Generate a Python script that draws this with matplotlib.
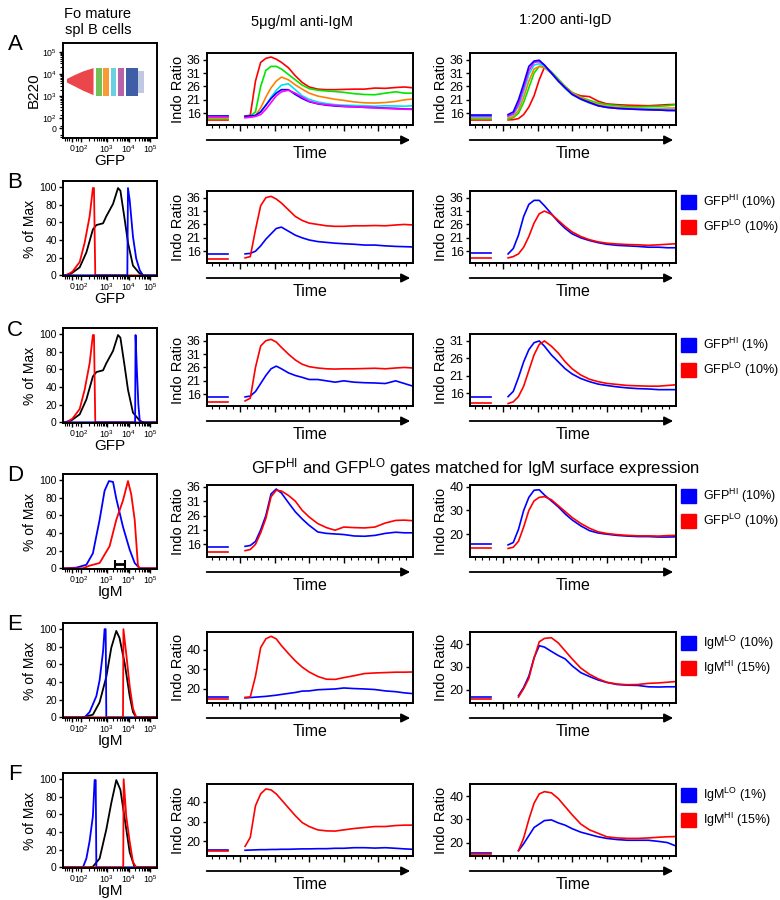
import numpy as np
import matplotlib
matplotlib.use("Agg")
import matplotlib.pyplot as plt
from matplotlib.patches import Rectangle

plt.rcParams['font.family'] = ['Liberation Sans', 'DejaVu Sans']
plt.rcParams['mathtext.default'] = 'regular'

# ---------------- data ----------------
# time grid (s) for post-stimulus traces, baselines drawn from 5 to 65 s
T_GRID = [115, 130, 145, 160, 175, 190, 205, 220, 240, 260, 280, 300, 325,
          350, 375, 400, 430, 460, 490, 520, 550, 575, 600]
T_BASE = [5, 65]
nan = np.nan

# row A, 5ug/ml anti-IgM (six GFP gates)
a_mid_red = [15.0, 15.2, 28, 35, 36.5, 37, 36.2, 35, 33, 30, 27.5, 25.8, 25, 24.8, 24.8, 24.9, 25, 25, 25.4, 25.3, 25.6, 25.8, 25.5]
a_mid_green = [14.8, 15, 16.5, 26, 32, 33.5, 33.5, 32.5, 30.5, 28.5, 26.5, 25.2, 24.6, 24.3, 24.1, 23.8, 23.3, 23, 22.9, 23.5, 24, 23.5, 23.5]
a_mid_orange = [14.5, 14.8, 15.2, 18, 22, 25.5, 28, 29.5, 28.5, 26.6, 25, 23.5, 22.4, 21.8, 21.2, 20.8, 20.2, 19.9, 19.8, 20, 20.4, 21, 21.3]
a_mid_cyan = [14.5, 14.7, 15, 16.5, 19, 22, 24.5, 26.5, 27, 24.8, 22.5, 21.2, 20.2, 19.6, 19.2, 19, 18.9, 18.8, 18.6, 18.8, 18.7, 18.6, 18.8]
a_mid_blue = [14.8, 15, 15.2, 16.5, 19, 21.5, 23.5, 24.8, 24.8, 23, 21.5, 20.3, 19.5, 19, 18.7, 18.5, 18.4, 18.2, 18.1, 17.9, 17.8, 17.6, 17.5]
a_mid_magenta = [14.3, 14.5, 14.8, 15.5, 17.5, 20, 22.5, 24, 24.6, 23.5, 22, 20.5, 19.6, 19.2, 18.9, 18.6, 18.4, 18.2, 18, 17.8, 17.6, 17.5, 17.4]
a_mid_base = [13.4, 14.0, 14.3, 14.8, 15.0, 14.6]

# row A, 1:200 anti-IgD
a_rt_red = [13.5, 13.6, 14, 15.5, 18.3, 22.5, 28.5, 33.2, 31, 28.2, 25.8, 23.6, 22.5, 22.2, 20.5, 19.5, 19.2, 19, 18.9, 18.8, 19, 19.2, 19.3]
a_rt_green = [13.8, 14.3, 16, 20, 25.5, 31, 33.5, 33.5, 31.5, 28.8, 26, 23.8, 22, 20.8, 19.8, 19.2, 18.8, 18.5, 18.4, 18.5, 18.6, 18.8, 19.2]
a_rt_orange = [14.2, 14.8, 17, 22, 28, 32.5, 33.5, 33, 31, 28.3, 25.8, 23.5, 21.8, 20.3, 19.2, 18.6, 18.2, 18, 17.9, 17.8, 17.8, 17.9, 18]
a_rt_cyan = [14.8, 15.5, 18.5, 24, 30.5, 34, 34.5, 33.5, 31, 28, 25.2, 23, 21.2, 19.8, 18.8, 18.2, 17.9, 17.7, 17.6, 17.5, 17.4, 17.4, 17.3]
a_rt_blue = [15.5, 16.5, 21, 27, 33.5, 35.5, 35.8, 34, 31, 28, 25.5, 23, 21.3, 20, 18.8, 18.2, 17.8, 17.6, 17.4, 17.3, 17.2, 17, 17]
a_rt_magenta = [15, 15.8, 19.5, 25.5, 32, 35, 35.3, 34, 31.2, 28.2, 25.5, 23.2, 21.3, 20, 18.8, 18.2, 17.8, 17.6, 17.5, 17.3, 17.2, 17.1, 17]
a_rt_base = [13.4, 13.8, 14.2, 14.6, 15.3, 14.9]

# rows B-F: [blue, red]
b_mid_blue = [15, 15.2, 16, 18, 20.5, 22.5, 24.5, 25, 23.5, 22, 21, 20.2, 19.6, 19.3, 19, 18.8, 18.6, 18.3, 18.3, 18, 17.8, 17.7, 17.6]
b_mid_red = [13.5, 14, 24, 33, 36, 36.5, 35.5, 34, 31.5, 29, 27.5, 26.5, 26, 25.5, 25.3, 25.3, 25.5, 25.5, 25.6, 25.5, 25.8, 26, 25.8]
b_mid_base = [15.0, 13.2]
b_rt_blue = [15, 17, 22, 29, 33.5, 35, 35, 33, 30, 27, 24.5, 22.5, 21, 20, 19.2, 18.6, 18.2, 18, 17.8, 17.5, 17.5, 17.3, 17.3]
b_rt_red = [13.5, 14, 15, 17.5, 21.5, 26.5, 30, 31, 29.8, 27.5, 25.2, 23.2, 21.5, 20.3, 19.5, 19, 18.7, 18.5, 18.4, 18.2, 18.4, 18.6, 18.8]
b_rt_base = [15.2, 13.5]

c_mid_blue = [15, 15.3, 17, 20, 23, 25.5, 26.5, 25.5, 24, 23, 22.3, 21.5, 21.5, 21, 20.5, 21, 20.5, 20.3, 20.2, 20, 21, 20, 19]
c_mid_red = [13.5, 14.5, 26, 34, 36, 36.5, 35.5, 33.5, 31, 28.8, 27.2, 26.3, 25.8, 25.5, 25.4, 25.5, 25.5, 25.6, 25.7, 25.5, 25.8, 26, 25.8]
c_mid_base = [15.0, 13.0]
c_rt_blue = [15, 16.5, 20.5, 25, 28.5, 30.5, 31, 29.5, 27, 25, 23, 21.5, 20.2, 19.3, 18.6, 18.2, 17.8, 17.5, 17.3, 17.2, 17, 17, 17]
c_rt_red = [13, 13.5, 15, 18, 22.5, 27, 30, 31, 29.5, 27.5, 25, 23, 21.2, 20, 19.3, 18.8, 18.5, 18.2, 18.1, 18, 18, 18.2, 18.4]
c_rt_base = [15.0, 13.2]

d_mid_blue = [15.3, 15.6, 17, 21, 26, 33.5, 35.2, 33.8, 30.5, 27.3, 24.8, 22.6, 20.3, 19.8, 19.6, 19.4, 18.9, 18.8, 19.1, 19.8, 20.2, 20, 20]
d_mid_red = [13.8, 14.2, 16, 20, 25, 32.5, 34.8, 34.5, 33, 31, 27.8, 25.5, 23.2, 21.8, 20.9, 22, 21.8, 21.7, 22, 23.4, 24.3, 24.4, 24.2]
d_mid_base = [15.1, 13.3]
d_rt_blue = [15.5, 16.5, 22, 30, 35.5, 38.5, 38.7, 36.5, 34, 31.5, 28.5, 26, 23.5, 21.5, 20.5, 20, 19.5, 19.2, 19, 19, 18.8, 18.8, 18.9]
d_rt_red = [14, 14.5, 17, 23, 30, 34, 35.5, 35.8, 34.5, 32, 29.5, 27, 24.5, 22.5, 21, 20.3, 19.8, 19.5, 19.3, 19.3, 19.2, 19.4, 19.5]
d_rt_base = [15.8, 14.3]

e_mid_blue = [15.2, 15.4, 15.6, 15.8, 16, 16.3, 16.6, 17, 17.5, 18, 18.7, 18.8, 19.4, 19.6, 19.8, 20.3, 20, 19.8, 19.5, 18.8, 18.4, 17.8, 17.4]
e_mid_red = [15.5, 15.7, 26.3, 41, 45.5, 46.8, 45.5, 42, 38, 34.2, 31, 28.5, 26.2, 24.8, 24.7, 25.6, 26.6, 27.7, 28, 28.2, 28.4, 28.4, 28.5]
e_mid_base = [15.7, 14.9]
e_rt_blue = [nan, nan, 17.4, 21, 26, 34, 39.3, 38.7, 36.8, 35, 33.5, 30.5, 27.5, 25.8, 24.3, 23.2, 22.3, 22, 21.9, 21.3, 21.2, 21.3, 21.3]
e_rt_red = [nan, nan, 16.8, 20.5, 25, 33.8, 41, 42.5, 42.8, 40.5, 37, 33.5, 29.5, 26.8, 24.8, 23.3, 22.5, 22.2, 22.3, 22.8, 23, 23.3, 23.6]
e_rt_base = [16.8, 15.9]

f_mid_blue = [15.5, 15.6, 15.7, 15.8, 15.8, 15.9, 15.9, 16, 16, 16.1, 16.2, 16.2, 16.3, 16.3, 16.5, 16.5, 16.8, 16.8, 16.6, 16.8, 16.5, 16.2, 16]
f_mid_red = [17.5, 22, 38, 44, 46.5, 46, 44, 41, 37, 33, 29.5, 27.5, 25.8, 25.3, 25.2, 25.8, 26.5, 27, 27.5, 27.5, 28, 28.2, 28.2]
f_mid_base = [15.5, 15.0]
f_rt_blue = [nan, nan, 16.5, 19.5, 23, 26.5, 28, 29.5, 29.8, 28.5, 27.5, 26, 24.5, 23.5, 22.5, 21.8, 21.3, 21, 21, 21, 20.5, 20, 18.5]
f_rt_red = [nan, nan, 16.5, 22, 30, 37, 41, 42, 41.5, 39, 35.5, 32, 28, 25.5, 24, 22.5, 22, 21.8, 21.8, 22, 22.3, 22.5, 22.6]
f_rt_base = [15.5, 15.0]

# flow histograms, x in axis decade units (10^3 -> 3, 10^4 -> 4)
b_black_x = [1.05, 1.35, 1.74, 2.05, 2.35, 2.51, 2.82, 2.97, 3.28, 3.51, 3.62, 3.82, 3.97, 4.2, 4.51, 4.66]
b_black_y = [0, 2, 9, 26, 52, 57, 59, 67, 81, 99, 96, 63, 37, 11, 2, 0]
b_red_x = [0.97, 1.12, 1.4, 1.74, 1.97, 2.2, 2.35, 2.4, 2.46, 5.31]
b_red_y = [0, 0, 4, 15, 37, 67, 99, 99, 0, 0]
b_blue_x = [0.97, 3.94, 3.97, 4.05, 4.2, 4.35, 4.51, 4.66, 5.31]
b_blue_y = [0, 0, 99, 85, 44, 19, 6, 0, 0]

c_blue_x = [0.97, 4.3, 4.32, 4.38, 4.45, 4.52, 5.31]
c_blue_y = [0, 0, 99, 60, 20, 0, 0]

d_blue_x = [0.97, 1.58, 2.05, 2.35, 2.66, 2.89, 3.09, 3.28, 3.43, 3.74, 4.05, 4.28, 4.51, 5.31]
d_blue_y = [0, 0.7, 4, 17, 55, 88, 99, 98, 79, 47, 21, 6, 0, 0]
d_red_x = [0.97, 1.89, 2.2, 2.66, 3.12, 3.43, 3.74, 3.97, 4.12, 4.28, 4.43, 4.51, 5.31]
d_red_y = [0, 0, 3, 6, 25, 55, 77, 99, 84, 55, 3, 0, 0]
d_gate = [3.35, 3.82]

e_blue_x = [0.97, 1.97, 2.2, 2.51, 2.66, 2.82, 2.89, 2.94, 2.97, 5.31]
e_blue_y = [0, 0, 6, 24, 42, 75, 100, 100, 0, 0]
e_black_x = [0.97, 1.89, 2.35, 2.66, 2.97, 3.2, 3.43, 3.58, 3.82, 4.05, 4.2, 4.35, 5.31]
e_black_y = [0, 0, 3, 17, 46, 79, 98, 90, 61, 24, 6, 0, 0]
e_red_x = [0.97, 3.74, 3.76, 3.89, 4.05, 4.2, 4.35, 5.31]
e_red_y = [0, 0, 100, 72, 35, 10, 0, 0]

f_blue_x = [0.97, 1.89, 2.05, 2.2, 2.35, 2.43, 2.48, 2.51, 5.31]
f_blue_y = [0, 0, 10, 30, 58, 99, 99, 0, 0]
f_black_x = [0.97, 2.2, 2.35, 2.66, 2.97, 3.2, 3.43, 3.62, 3.82, 4.05, 4.28, 5.31]
f_black_y = [0, 0, 0.7, 10, 43, 73, 99, 88, 55, 17, 0, 0]
f_red_x = [0.97, 3.75, 3.77, 3.89, 4.05, 4.2, 4.35, 5.31]
f_red_y = [0, 0, 100, 58, 29, 6, 0, 0]

# A dot plot: GFP gates (decade units) and B220 band
gate_lo = [2.48, 2.82, 3.17, 3.51, 3.89]
gate_hi = [2.75, 3.09, 3.43, 3.80, 4.45]
gate_colors = ['#62bb46', '#f7901e', '#5ccbe0', '#b2519f', '#2b4c9f']
red_pop_x = [1.15, 1.5, 1.9, 2.38, 2.38, 1.9, 1.5, 1.15]
red_pop_y = [3.62, 3.45, 3.25, 3.05, 4.27, 4.12, 3.95, 3.78]

legend_text = {
    'B': [r'GFP$^{HI}$ (10%)', r'GFP$^{LO}$ (10%)'],
    'C': [r'GFP$^{HI}$ (1%)', r'GFP$^{LO}$ (10%)'],
    'D': [r'GFP$^{HI}$ (10%)', r'GFP$^{LO}$ (10%)'],
    'E': [r'IgM$^{LO}$ (10%)', r'IgM$^{HI}$ (15%)'],
    'F': [r'IgM$^{LO}$ (1%)', r'IgM$^{HI}$ (15%)'],
}

# ---------------- layout ----------------
W, H = 780, 900
fig = plt.figure(figsize=(W / 100, H / 100), dpi=100)

hist_top = {'A': 43, 'B': 181, 'C': 328, 'D': 474, 'E': 623, 'F': 773}
# time panels: (top, bottom) in pixels
time_box = {'A': (53, 125), 'B': (191, 263), 'C': (334, 406), 'D': (485, 557),
            'E': (632, 703), 'F': (784, 856)}
HIST_X = (63, 157)
MID_X = (207, 413)
RT_X = (470, 676)

BLUE = '#0000ff'
RED = '#ff0000'
six_colors = ['#ff0000', '#00e600', '#ff8000', '#00e0f0', '#0000ff', '#ff00ff']

FL_TICKS = [1.40, 1.82, 3, 4, 5]
FL_LABELS = ['0', '10$^2$', '10$^3$', '10$^4$', '10$^5$']


def px_axes(x0, y0, x1, y1):
    return fig.add_axes([x0 / W, 1 - y1 / H, (x1 - x0) / W, (y1 - y0) / H])


def style_box(ax):
    for s in ax.spines.values():
        s.set_linewidth(1.4)
    ax.tick_params(direction='out', length=3, width=1, labelsize=8, pad=1.5)


def flow_minor():
    m = []
    for k in range(2, 10):
        m.append(1.82 + np.log10(k) * 1.18)
        m.append(3 + np.log10(k))
        m.append(4 + np.log10(k))
    return m + [1.05, 1.15, 1.25, 1.55, 1.65]


def flow_xaxis(ax, label):
    ax.set_xlim(0.97, 5.31)
    ax.set_xticks(FL_TICKS)
    ax.set_xticklabels(FL_LABELS, fontsize=6.3)
    ax.set_xticks(flow_minor(), minor=True)
    ax.tick_params(axis='x', which='major', pad=1)
    ax.tick_params(axis='x', which='minor', length=2, width=0.8, direction='out')
    ax.set_xlabel(label, fontsize=11, labelpad=-1)


def hist_panel(row, curves, label):
    t = hist_top[row]
    ax = px_axes(HIST_X[0], t, HIST_X[1], t + 95)
    style_box(ax)
    for x, y, c in curves:
        ax.plot(x, y, color=c, lw=1.3)
    ax.set_ylim(-0.8, 107)
    ax.set_yticks([0, 20, 40, 60, 80, 100])
    ax.tick_params(axis='y', labelsize=7.5)
    ax.set_ylabel('% of Max', fontsize=10, labelpad=2)
    flow_xaxis(ax, label)
    return ax


def time_panel(x_rng, row, traces, bases, colors, ylim, yticks):
    top, bot = time_box[row]
    ax = px_axes(x_rng[0], top, x_rng[1], bot)
    h = bot - top
    style_box(ax)
    for y, b, c in zip(traces, bases, colors):
        ax.plot(T_BASE, [b, b], color=c, lw=1.2)
        ax.plot(T_GRID, y, color=c, lw=1.2)
    ax.set_xlim(5, 600)
    ax.set_ylim(*ylim)
    ax.set_yticks(yticks)
    ax.tick_params(axis='y', labelsize=9)
    ax.set_xticks([100, 200, 300, 400, 500])
    ax.set_xticks(np.arange(20, 600, 20), minor=True)
    ax.tick_params(axis='x', which='major', length=4, labelbottom=False)
    ax.tick_params(axis='x', which='minor', length=2, width=0.8)
    ax.set_ylabel('Indo Ratio', fontsize=10.5, labelpad=1)
    ax.annotate('', xy=(1.0, -15 / h), xytext=(-0.015, -15 / h),
                xycoords='axes fraction', annotation_clip=False,
                arrowprops=dict(arrowstyle='-|>', lw=1.3, color='k', mutation_scale=13))
    ax.text(0.5, -28.5 / h, 'Time', transform=ax.transAxes, ha='center', va='center', fontsize=11.5)
    return ax


def legend(row):
    t = time_box[row][0]
    for i, c in enumerate([BLUE, RED]):
        y0 = t + 4 + 25 * i
        fig.add_artist(Rectangle((681 / W, 1 - (y0 + 14) / H), 15 / W, 14 / H,
                                 transform=fig.transFigure, color=c))
        fig.text(703 / W, 1 - (y0 + 7) / H, legend_text[row][i], fontsize=9, va='center')


# ---------------- titles and letters ----------------
fig.text(98 / W, 1 - 22 / H, 'Fo mature\nspl B cells', ha='center', va='center', fontsize=10.5, linespacing=1.1)
fig.text(302 / W, 1 - 22 / H, '5\u03bcg/ml anti-IgM', ha='center', va='center', fontsize=10.5)
fig.text(565 / W, 1 - 20 / H, '1:200 anti-IgD', ha='center', va='center', fontsize=10.5)
fig.text(475 / W, 1 - 468 / H, r'GFP$^{HI}$ and GFP$^{LO}$ gates matched for IgM surface expression',
         ha='center', va='center', fontsize=12)
for r, t in hist_top.items():
    fig.text(15 / W, 1 - (t + 2) / H, r, ha='center', va='center', fontsize=16)

# ---------------- row A ----------------
t = hist_top['A']
ax = px_axes(HIST_X[0], t, HIST_X[1], t + 95)
style_box(ax)
ax.fill(red_pop_x, red_pop_y, color='#e8262b', alpha=0.85, lw=0)
for lo, hi, c in zip(gate_lo, gate_hi, gate_colors):
    ax.fill_between([lo, hi], 3.02, 4.28, color=c, alpha=0.9, lw=0)
ax.fill_between([gate_hi[-1], 4.7], 3.15, 4.15, color=gate_colors[-1], alpha=0.3, lw=0)
ax.set_ylim(1.12, 5.4)
ax.set_yticks([1.57, 2.02, 3, 4, 5])
ax.set_yticklabels(FL_LABELS, fontsize=6.3)
ax.set_yticks([m for m in flow_minor() if m > 1.12], minor=True)
ax.tick_params(axis='y', which='minor', length=2, width=0.8, direction='out')
ax.set_ylabel('B220', fontsize=11, labelpad=1)
flow_xaxis(ax, 'GFP')

time_panel(MID_X, 'A', [a_mid_red, a_mid_green, a_mid_orange, a_mid_cyan, a_mid_blue, a_mid_magenta],
           a_mid_base, six_colors, (11.6, 38.5), [16, 21, 26, 31, 36])
time_panel(RT_X, 'A', [a_rt_red, a_rt_green, a_rt_orange, a_rt_cyan, a_rt_magenta, a_rt_blue],
           [a_rt_base[0], a_rt_base[1], a_rt_base[2], a_rt_base[3], a_rt_base[5], a_rt_base[4]],
           ['#ff0000', '#00e600', '#ff8000', '#00e0f0', '#ff00ff', '#0000ff'], (11.6, 38.5), [16, 21, 26, 31, 36])

# ---------------- rows B-F ----------------
hist_panel('B', [(b_black_x, b_black_y, 'k'), (b_red_x, b_red_y, RED), (b_blue_x, b_blue_y, BLUE)], 'GFP')
hist_panel('C', [(b_black_x, b_black_y, 'k'), (b_red_x, b_red_y, RED), (c_blue_x, c_blue_y, BLUE)], 'GFP')
axd = hist_panel('D', [(d_blue_x, d_blue_y, BLUE), (d_red_x, d_red_y, RED)], 'IgM')
axd.errorbar([sum(d_gate) / 2], [4.5], xerr=[(d_gate[1] - d_gate[0]) / 2], color='k',
             lw=2, capsize=3, capthick=1.5)
hist_panel('E', [(e_black_x, e_black_y, 'k'), (e_blue_x, e_blue_y, BLUE), (e_red_x, e_red_y, RED)], 'IgM')
hist_panel('F', [(f_black_x, f_black_y, 'k'), (f_blue_x, f_blue_y, BLUE), (f_red_x, f_red_y, RED)], 'IgM')

y16 = [16, 21, 26, 31, 36]
y20 = [20, 30, 40]
time_panel(MID_X, 'B', [b_mid_blue, b_mid_red], b_mid_base, [BLUE, RED], (11.6, 38.5), y16)
time_panel(RT_X, 'B', [b_rt_blue, b_rt_red], b_rt_base, [BLUE, RED], (11.6, 38.5), y16)
time_panel(MID_X, 'C', [c_mid_blue, c_mid_red], c_mid_base, [BLUE, RED], (11.6, 38.5), y16)
time_panel(RT_X, 'C', [c_rt_blue, c_rt_red], c_rt_base, [BLUE, RED], (12.3, 33), [16, 21, 26, 31])
time_panel(MID_X, 'D', [d_mid_blue, d_mid_red], d_mid_base, [BLUE, RED], (11.6, 36.6), y16)
time_panel(RT_X, 'D', [d_rt_blue, d_rt_red], d_rt_base, [BLUE, RED], (10.4, 40.7), y20)
time_panel(MID_X, 'E', [e_mid_blue, e_mid_red], e_mid_base, [BLUE, RED], (12.6, 49), y20)
time_panel(RT_X, 'E', [e_rt_blue, e_rt_red], e_rt_base, [BLUE, RED], (14.2, 45.3), y20)
time_panel(MID_X, 'F', [f_mid_blue, f_mid_red], f_mid_base, [BLUE, RED], (12.6, 49), y20)
time_panel(RT_X, 'F', [f_rt_blue, f_rt_red], f_rt_base, [BLUE, RED], (14.2, 45.3), y20)

for r in ['B', 'C', 'D', 'E', 'F']:
    legend(r)

fig.savefig('out.png', dpi=100)
